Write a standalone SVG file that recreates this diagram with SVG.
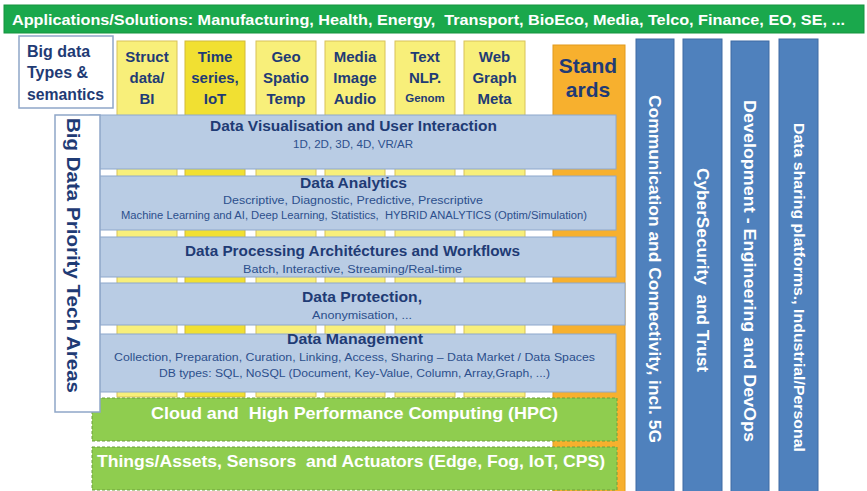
<svg xmlns="http://www.w3.org/2000/svg" width="867" height="491" viewBox="0 0 867 491">
<style>
  text { font-family: "Liberation Sans", Arial, sans-serif; font-weight: bold; white-space: pre; }
  .dk { fill: #1f3b75; }
  .wt { fill: #ffffff; }
  .sub { fill: #2c4f8c; font-weight: normal; }
  .yel { fill: #f8ef7a; stroke: #d8c258; stroke-width: 1; }
  .yel2 { fill: #f1e032; stroke: #d2b93a; stroke-width: 1; }
  .layer { fill: #b9cce4; stroke: #8ea8cc; stroke-width: 1; }
  .grn { fill: #8fcd4f; stroke: #6c9f3c; stroke-width: 1; stroke-dasharray: 3 2; }
  .vbar { fill: #4f81bd; stroke: #3e6ba3; stroke-width: 1; }
</style>
<rect x="0" y="0" width="867" height="491" fill="#ffffff"/>

<g id="applications">
  <rect x="4" y="5" width="860" height="28" fill="#1aa84c" stroke="#15943f" stroke-width="1"/>
  <text x="12" y="25" font-size="15" class="wt" textLength="833" lengthAdjust="spacingAndGlyphs" xml:space="preserve">Applications/Solutions: Manufacturing, Health, Energy,  Transport, BioEco, Media, Telco, Finance, EO, SE, ...</text>
</g>

<g id="types-label">
  <rect x="19" y="36" width="94" height="72" fill="#ffffff" stroke="#8fa6c8" stroke-width="1.5"/>
  <text x="27" y="57" font-size="16" class="dk">Big data</text>
  <text x="27" y="78" font-size="16" class="dk">Types &amp;</text>
  <text x="27" y="100" font-size="16" class="dk" textLength="77" lengthAdjust="spacingAndGlyphs">semantics</text>
</g>

<g id="col-struct">
  <rect x="117" y="41" width="60" height="356" class="yel"/>
  <text x="147" y="62" font-size="15" class="dk" text-anchor="middle">Struct</text>
  <text x="147" y="83" font-size="15" class="dk" text-anchor="middle">data/</text>
  <text x="147" y="104" font-size="15" class="dk" text-anchor="middle">BI</text>
</g>
<g id="col-time">
  <rect x="185" y="41" width="60" height="356" class="yel2"/>
  <text x="215" y="62" font-size="15" class="dk" text-anchor="middle">Time</text>
  <text x="215" y="83" font-size="15" class="dk" text-anchor="middle">series,</text>
  <text x="215" y="104" font-size="15" class="dk" text-anchor="middle">IoT</text>
</g>
<g id="col-geo">
  <rect x="256" y="41" width="60" height="356" class="yel"/>
  <text x="286" y="62" font-size="15" class="dk" text-anchor="middle">Geo</text>
  <text x="286" y="83" font-size="15" class="dk" text-anchor="middle">Spatio</text>
  <text x="286" y="104" font-size="15" class="dk" text-anchor="middle">Temp</text>
</g>
<g id="col-media">
  <rect x="325" y="41" width="60" height="356" class="yel"/>
  <text x="355" y="62" font-size="15" class="dk" text-anchor="middle">Media</text>
  <text x="355" y="83" font-size="15" class="dk" text-anchor="middle">Image</text>
  <text x="355" y="104" font-size="15" class="dk" text-anchor="middle">Audio</text>
</g>
<g id="col-text">
  <rect x="395" y="41" width="60" height="356" class="yel"/>
  <text x="425" y="62" font-size="15" class="dk" text-anchor="middle">Text</text>
  <text x="425" y="83" font-size="15" class="dk" text-anchor="middle">NLP.</text>
  <text x="425" y="102" font-size="11.5" class="dk" text-anchor="middle">Genom</text>
</g>
<g id="col-web">
  <rect x="464" y="41" width="61" height="356" class="yel"/>
  <text x="494.5" y="62" font-size="15" class="dk" text-anchor="middle">Web</text>
  <text x="494.5" y="83" font-size="15" class="dk" text-anchor="middle">Graph</text>
  <text x="494.5" y="104" font-size="15" class="dk" text-anchor="middle">Meta</text>
</g>

<g id="standards">
  <rect x="553" y="45" width="72" height="450" fill="#f7b02e" stroke="#e29a1c" stroke-width="1"/>
  <text x="588" y="73" font-size="21" class="dk" text-anchor="middle">Stand</text>
  <text x="588" y="97" font-size="21" class="dk" text-anchor="middle">ards</text>
</g>

<g id="layer-visualisation">
  <rect x="90" y="115" width="526" height="54" class="layer"/>
  <text x="353.5" y="131" font-size="14" class="dk" text-anchor="middle" textLength="287" lengthAdjust="spacingAndGlyphs">Data Visualisation and User Interaction</text>
  <text x="353" y="148" font-size="10" class="sub" text-anchor="middle" textLength="120" lengthAdjust="spacingAndGlyphs">1D, 2D, 3D, 4D, VR/AR</text>
</g>
<g id="layer-analytics">
  <rect x="90" y="176" width="526" height="54" class="layer"/>
  <text x="353.5" y="188" font-size="14" class="dk" text-anchor="middle" textLength="107" lengthAdjust="spacingAndGlyphs">Data Analytics</text>
  <text x="353" y="204" font-size="10" class="sub" text-anchor="middle" textLength="260" lengthAdjust="spacingAndGlyphs">Descriptive, Diagnostic, Predictive, Prescriptive</text>
  <text x="354" y="219" font-size="10" class="sub" text-anchor="middle" textLength="466" lengthAdjust="spacingAndGlyphs" xml:space="preserve">Machine Learning and AI, Deep Learning, Statistics,  HYBRID ANALYTICS (Optim/Simulation)</text>
</g>
<g id="layer-processing">
  <rect x="90" y="237" width="526" height="40" class="layer"/>
  <text x="352.5" y="256" font-size="14" class="dk" text-anchor="middle" textLength="335" lengthAdjust="spacingAndGlyphs">Data Processing Architéctures and Workflows</text>
  <text x="352.5" y="273" font-size="10" class="sub" text-anchor="middle" textLength="219" lengthAdjust="spacingAndGlyphs">Batch, Interactive, Streaming/Real-time</text>
</g>
<g id="layer-protection">
  <rect x="100" y="283" width="525" height="42" class="layer"/>
  <text x="362" y="302" font-size="14" class="dk" text-anchor="middle" textLength="120" lengthAdjust="spacingAndGlyphs">Data Protection,</text>
  <text x="362" y="319" font-size="10" class="sub" text-anchor="middle" textLength="100" lengthAdjust="spacingAndGlyphs">Anonymisation, ...</text>
</g>
<g id="layer-management">
  <rect x="90" y="334" width="526" height="58" class="layer"/>
  <text x="355" y="344" font-size="14" class="dk" text-anchor="middle" textLength="136" lengthAdjust="spacingAndGlyphs">Data Management</text>
  <text x="354.5" y="361" font-size="10" class="sub" text-anchor="middle" textLength="481" lengthAdjust="spacingAndGlyphs">Collection, Preparation, Curation, Linking, Access, Sharing – Data Market / Data Spaces</text>
  <text x="354.5" y="377" font-size="10" class="sub" text-anchor="middle" textLength="391" lengthAdjust="spacingAndGlyphs">DB types: SQL, NoSQL (Document, Key-Value, Column, Array,Graph, ...)</text>
</g>
<g id="layer-cloud">
  <rect x="92" y="398" width="525" height="43" class="grn"/>
  <text x="354.5" y="419" font-size="17" class="wt" text-anchor="middle" textLength="407" lengthAdjust="spacingAndGlyphs" xml:space="preserve">Cloud and  High Performance Computing (HPC)</text>
</g>
<g id="layer-things">
  <rect x="92" y="447" width="525" height="43" class="grn"/>
  <text x="351" y="467" font-size="17" class="wt" text-anchor="middle" textLength="508" lengthAdjust="spacingAndGlyphs" xml:space="preserve">Things/Assets, Sensors  and Actuators (Edge, Fog, IoT, CPS)</text>
</g>

<g id="priority-label">
  <rect x="55" y="115" width="45" height="297" fill="#ffffff" stroke="#8fa6c8" stroke-width="1.5"/>
  <g transform="translate(74,255.5) rotate(90)">
    <text x="0" y="6.6" font-size="19" class="dk" text-anchor="middle" textLength="275" lengthAdjust="spacingAndGlyphs">Big Data Priority Tech Areas</text>
  </g>
</g>

<g id="bar-communication">
  <rect x="636" y="39" width="38" height="460" class="vbar"/>
  <g transform="translate(655,269) rotate(90)">
    <text x="0" y="5.6" font-size="16" class="wt" text-anchor="middle" textLength="348" lengthAdjust="spacingAndGlyphs">Communication and Connectivity, incl. 5G</text>
  </g>
</g>
<g id="bar-cybersecurity">
  <rect x="683" y="39" width="39" height="460" class="vbar"/>
  <g transform="translate(702.5,270) rotate(90)">
    <text x="0" y="5.6" font-size="16" class="wt" text-anchor="middle" textLength="204" lengthAdjust="spacingAndGlyphs" xml:space="preserve">CyberSecurity  and Trust</text>
  </g>
</g>
<g id="bar-development">
  <rect x="731" y="41" width="38" height="460" class="vbar"/>
  <g transform="translate(750,271) rotate(90)">
    <text x="0" y="5.6" font-size="16" class="wt" text-anchor="middle" textLength="342" lengthAdjust="spacingAndGlyphs">Development - Engineering and DevOps</text>
  </g>
</g>
<g id="bar-datasharing">
  <rect x="779" y="39" width="39" height="460" class="vbar"/>
  <g transform="translate(798.5,287.5) rotate(90)">
    <text x="0" y="4.9" font-size="14" class="wt" text-anchor="middle" textLength="329" lengthAdjust="spacingAndGlyphs">Data sharing platforms., Industrial/Personal</text>
  </g>
</g>

<g id="connectors"></g>
</svg>
